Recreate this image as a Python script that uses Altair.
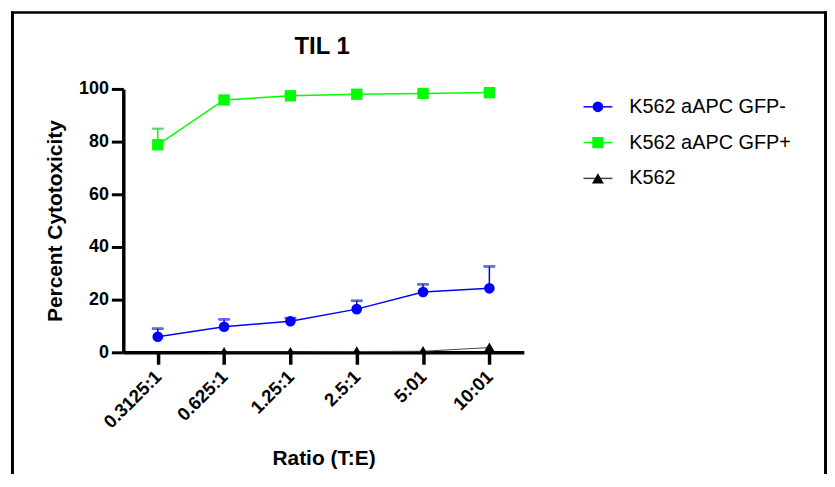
import altair as alt
import pandas as pd

FONT = "Liberation Sans"

title_text = "TIL 1"
ratios = ["0.3125:1", "0.625:1", "1.25:1", "2.5:1", "5:01", "10:01"]
series = ["K562 aAPC GFP-", "K562 aAPC GFP+", "K562"]

gfp_neg = [5.9, 9.7, 11.8, 16.4, 22.9, 24.3]
gfp_neg_upper = [9.0, 12.5, 13.0, 19.6, 25.8, 32.6]
gfp_pos = [78.8, 95.8, 97.4, 98.0, 98.3, 98.6]
gfp_pos_upper = [84.9, 96.4, 98.0, 98.6, 98.8, 99.2]
k562 = [-2.0, 0.1, 0.1, 0.3, 0.4, 1.8]

marker_colors = ["#0000FF", "#00FF00", "#000000"]
line_colors = ["#0000FF", "#00FF00", "#444444"]
shapes = ["circle", "square", "triangle-up"]
sizes = [115, 144, 95]

main_rows = []
for r, v, u in zip(ratios, gfp_neg, gfp_neg_upper):
    main_rows.append({"ratio": r, "series": series[0], "value": v, "upper": u})
for r, v, u in zip(ratios, gfp_pos, gfp_pos_upper):
    main_rows.append({"ratio": r, "series": series[1], "value": v, "upper": u})
main_df = pd.DataFrame(main_rows)
k_df = pd.DataFrame({"ratio": ratios, "series": series[2], "value": k562})

x_enc = alt.X(
    "ratio:N",
    sort=ratios,
    scale=alt.Scale(type="point", domain=ratios, padding=0.52),
    axis=alt.Axis(
        labelAngle=-45, labelAlign="right", labelBaseline="middle",
        labelFont=FONT, labelFontSize=18.5, labelFontWeight="bold", labelColor="black",
        labelPadding=9, tickSize=12, tickWidth=3.5, tickColor="black",
        domainWidth=3.5, domainColor="black", grid=False,
        title="Ratio (T:E)", titleFont=FONT, titleFontSize=21, titleFontWeight="bold",
        titleColor="black", titleX=201.5, titleY=113, titleBaseline="alphabetic",
        titleAlign="center",
    ),
)

y_axis = alt.Axis(
    values=list(range(0, 101, 10)),
    labelExpr="datum.value % 20 == 0 ? datum.label : ''",
    tickSize={"condition": {"test": "datum.value % 20 != 0", "value": 5}, "value": 12},
    tickWidth=3, tickColor="black", domainWidth=3.5, domainColor="black",
    labelFont=FONT, labelFontSize=18, labelFontWeight="bold", labelColor="black",
    labelPadding=3, grid=False,
    title="Percent Cytotoxicity", titleFont=FONT, titleFontSize=21, titleFontWeight="bold",
    titleColor="black", titleX=-68, titleY=132.5, titleBaseline="middle", titleAlign="center",
    titleAngle=-90,
)
y_enc = alt.Y("value:Q", scale=alt.Scale(domain=[0, 100], nice=False), axis=y_axis)

stroke_enc = alt.Stroke("series:N", scale=alt.Scale(domain=series, range=line_colors), legend=None)
fill_enc = alt.Fill("series:N", scale=alt.Scale(domain=series, range=marker_colors), legend=None)
shape_enc = alt.Shape("series:N", scale=alt.Scale(domain=series, range=shapes), legend=None)
size_enc = alt.Size("series:N", scale=alt.Scale(domain=series, range=sizes), legend=None)

main = alt.Chart(main_df)
lines = main.mark_line(strokeWidth=1.5).encode(x=x_enc, y=y_enc, stroke=stroke_enc, detail="series:N")
err = main.mark_rule(strokeWidth=1.5).encode(x=x_enc, y=y_enc, y2="upper:Q", stroke=stroke_enc)
caps = main.mark_tick(thickness=1.5, size=11).encode(x=x_enc, y=alt.Y("upper:Q"), stroke=stroke_enc)
pts = main.mark_point(filled=True, opacity=1, strokeWidth=0).encode(
    x=x_enc, y=y_enc, fill=fill_enc, shape=shape_enc, size=size_enc)

kc = alt.Chart(k_df)
k_line = kc.mark_line(strokeWidth=1, clip=True).encode(x=x_enc, y=y_enc, stroke=stroke_enc)
k_pts = kc.mark_point(filled=True, opacity=1, strokeWidth=0, clip=True).encode(
    x=x_enc, y=y_enc, fill=fill_enc, shape=shape_enc, size=size_enc)

data_layer = alt.layer(lines, k_line, err, caps, k_pts, pts)

# legend
leg_df = pd.DataFrame({"series": series})
ly = alt.Y("series:N", scale=alt.Scale(type="point", domain=series, range=[18, 90], padding=0), axis=None)
leg = alt.Chart(leg_df)
leg_rules = leg.mark_rule(strokeWidth=1.5).encode(
    x=alt.value(463), x2=alt.value(492), y=ly, stroke=stroke_enc)
leg_pts = leg.mark_point(filled=True, opacity=1, strokeWidth=0).encode(
    x=alt.value(477.5), y=ly, fill=fill_enc, shape=shape_enc, size=size_enc)
leg_text = leg.mark_text(align="left", baseline="middle", font=FONT, fontSize=20, color="black").encode(
    x=alt.value(509), y=ly, text="series:N")
legend_layer = alt.layer(leg_rules, leg_pts, leg_text)

# frame and title
one = pd.DataFrame({"title": [title_text]})
fr = alt.Chart(one)
frame_top = fr.mark_rule(strokeWidth=2.5, color="black").encode(
    x=alt.value(-113), x2=alt.value(708), y=alt.value(-77))
frame_left = fr.mark_rule(strokeWidth=3, color="black").encode(
    x=alt.value(-111.5), y=alt.value(-78), y2=alt.value(420))
frame_right = fr.mark_rule(strokeWidth=3, color="black").encode(
    x=alt.value(706.5), y=alt.value(-78), y2=alt.value(420))
title_mark = fr.mark_text(align="center", baseline="alphabetic", font=FONT, fontSize=24,
                          fontWeight="bold", color="black").encode(
    x=alt.value(200), y=alt.value(-35), text="title:N")
frame_layer = alt.layer(frame_top, frame_left, frame_right, title_mark)

chart = alt.layer(data_layer, legend_layer, frame_layer).resolve_scale(y="independent").properties(
    width=403, height=265,
    autosize=alt.AutoSizeParams(type="none"),
    padding={"left": 116, "top": 80, "right": 305, "bottom": 121},
    background="white",
).configure_view(stroke=None)

chart.save("out.html", embed_options={"renderer": "svg", "actions": False})
